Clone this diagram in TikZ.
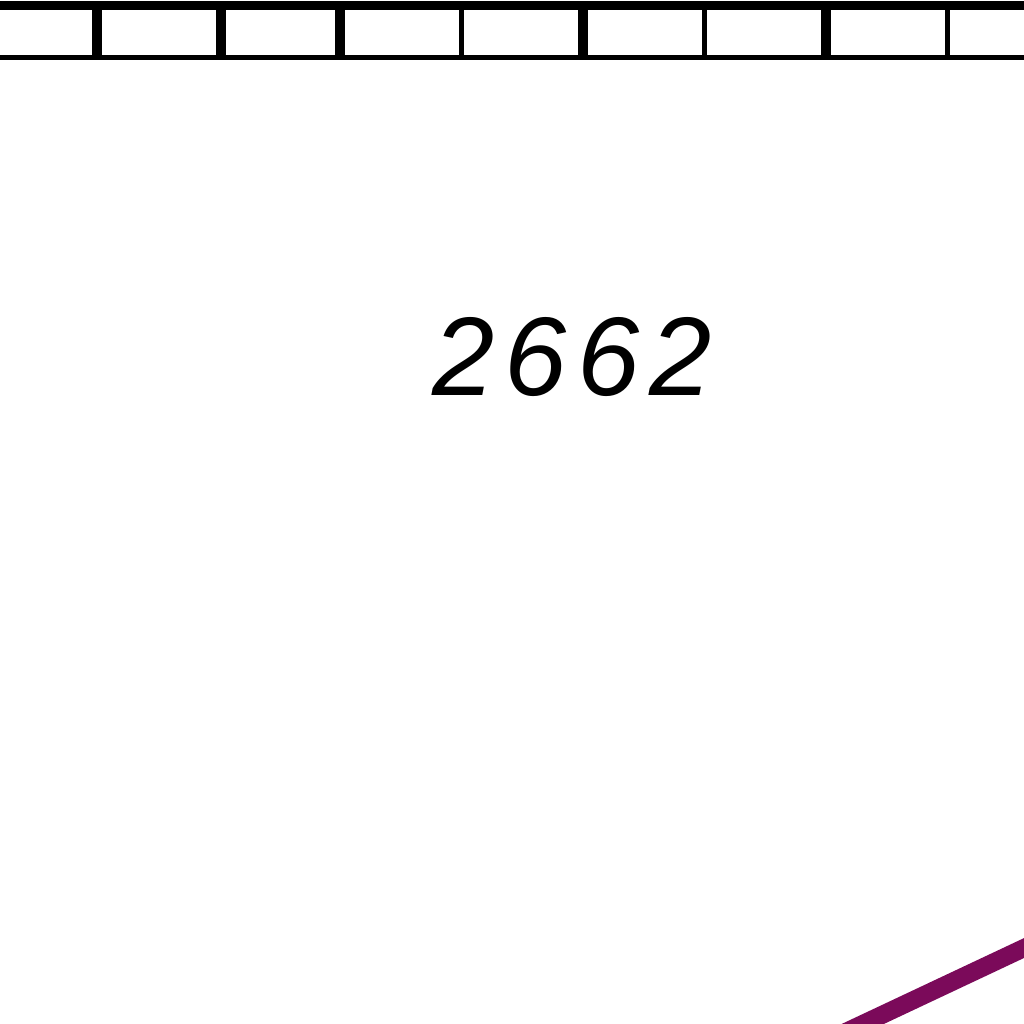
\documentclass[tikz,border=0pt]{standalone}
\usepackage{fontspec}
\newfontfamily\kmfont[LetterSpace=9]{Liberation Sans}
\usetikzlibrary{positioning}
\definecolor{trackpurple}{RGB}{123,10,90}

\begin{document}
\begin{tikzpicture}[x=0.01cm,y=-0.01cm]
  \clip (0,0) rectangle (1024,1024);
  % scale band at the top
  \draw[line width=0.9mm] (0,5.5) -- (1024,5.5);
  \draw[line width=0.5mm] (0,57.5) -- (1024,57.5);
  \foreach \x in {97,221,340,583,826} \draw[line width=1mm] (\x,5) -- (\x,57);
  \foreach \x in {461.5,704.5,947.5} \draw[line width=0.5mm] (\x,5) -- (\x,57);
  \node[font=\kmfont\itshape\fontsize{31.8}{36}\selectfont,inner sep=0pt] (km) at (572,357.5) {2662};
  % track
  \draw[trackpurple,line width=1.8mm] (830,1039.4) -- (1040,940.5);
\end{tikzpicture}
\end{document}
